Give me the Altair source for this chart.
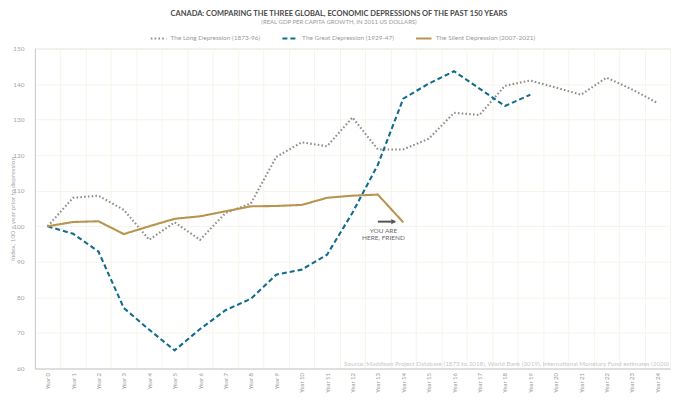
import altair as alt
import pandas as pd

years = list(range(25))
series_names = [
    "The Long Depression (1873-96)",
    "The Great Depression (1929-47)",
    "The Silent Depression (2007-2021)",
]
long_dep = [100, 108.0, 108.6, 104.6, 96.2, 101.1, 96.2, 103.7, 106.4, 119.5,
            123.6, 122.5, 130.6, 121.6, 121.6, 124.6, 131.9, 131.3, 139.5, 141.0,
            139.0, 137.0, 141.8, 138.5, 134.7]
great_dep = [100, 97.9, 92.9, 77.0, 70.9, 65.1, 71.1, 76.4, 79.6, 86.4,
             87.8, 92.0, 103.8, 117.3, 135.9, 140.1, 143.6, 138.7, 133.8, 137.0]
silent_dep = [100, 101.2, 101.4, 97.8, 100.0, 102.1, 102.8, 104.2, 105.6, 105.7,
              106.0, 108.0, 108.6, 108.9, 101.1]
colors = ["#8e8e8e", "#126d8d", "#b8944f"]
dashes = [[1.6, 2.2], [5, 3], [1, 0]]
y_ticks = list(range(60, 151, 10))

rows = []
for name, vals in zip(series_names, [long_dep, great_dep, silent_dep]):
    for i, v in enumerate(vals):
        rows.append({"year": years[i], "series": name, "value": v})
df = pd.DataFrame(rows)

FONT = "Lato"
GRID = "#f6f4ea"
xscale = alt.Scale(domain=[-0.5, 24.5], nice=False, zero=False)
yscale = alt.Scale(domain=[60, 150], nice=False, zero=False)

x_axis = alt.Axis(values=years, labelExpr="'Year ' + datum.value",
                  grid=False, ticks=False, domainColor="#cccccc",
                  labelAngle=-90, labelFont=FONT, labelFontSize=6,
                  labelColor="#9a9a9a", labelPadding=4, title=None,
                  labelOverlap=False, labelFlush=False)
y_axis = alt.Axis(values=y_ticks, grid=True, gridColor=GRID, ticks=False,
                  domainColor="#cccccc", labelFont=FONT, labelFontSize=6.5,
                  labelColor="#a5a5a5", labelPadding=11,
                  labelOverlap=False, labelFlush=False,
                  title="Index, 100 = year prior to depression",
                  titleFont=FONT, titleFontSize=6.5, titleFontWeight="normal",
                  titleColor="#a5a5a5", titleX=-19)

legend = alt.Legend(title=None, orient="none", direction="horizontal",
                    legendX=115, legendY=-19, symbolType="stroke",
                    symbolSize=240, symbolStrokeWidth=2,
                    labelFont=FONT, labelFontSize=6.5, labelColor="#9a9a9a",
                    labelOffset=3, columnPadding=17)

lines = alt.Chart(df).mark_line(strokeWidth=2.1).encode(
    x=alt.X("year:Q", scale=xscale, axis=x_axis),
    y=alt.Y("value:Q", scale=yscale, axis=y_axis),
    color=alt.Color("series:N", sort=series_names,
                    scale=alt.Scale(domain=series_names, range=colors),
                    legend=legend),
    strokeDash=alt.StrokeDash("series:N", sort=series_names,
                              scale=alt.Scale(domain=series_names, range=dashes),
                              legend=legend),
    order="year:Q",
)

grid_df = pd.DataFrame({"g": [-0.5, 24.5]})
vgrid = alt.Chart(grid_df).mark_point(opacity=0).encode(
    x=alt.X("g:Q", scale=xscale,
            axis=alt.Axis(orient="top", values=[i - 0.5 for i in range(26)], grid=True,
                          gridColor=GRID, labels=False, ticks=False, domain=False,
                          title=None)),
    y=alt.value(0),
)

arrow_df = pd.DataFrame({"x1": [13.0], "x2": [13.68], "y": [101.3]})
arrow_shaft = alt.Chart(arrow_df).mark_rule(color="#555555", strokeWidth=2).encode(
    x=alt.X("x1:Q", scale=xscale, axis=x_axis),
    x2="x2:Q",
    y=alt.Y("y:Q", scale=yscale, axis=y_axis),
)
head_df = pd.DataFrame({"x": [13.62], "y": [101.3]})
arrow_head = alt.Chart(head_df).mark_point(shape="triangle-right", filled=True,
                                           color="#555555", size=28, opacity=1).encode(
    x=alt.X("x:Q", scale=xscale, axis=x_axis),
    y=alt.Y("y:Q", scale=yscale, axis=y_axis),
)

note_df = pd.DataFrame({"x": [13.22], "y": [99.6], "t": ["YOU ARE\nHERE, FRIEND"]})
note = alt.Chart(note_df).mark_text(font=FONT, fontSize=6.5, color="#6a6a6a",
                                    align="center", baseline="top", lineHeight=7.5,
                                    lineBreak="\n").encode(
    x=alt.X("x:Q", scale=xscale, axis=x_axis),
    y=alt.Y("y:Q", scale=yscale, axis=y_axis),
    text="t:N",
)

source_df = pd.DataFrame({"t": ["Source: Maddison Project Database (1873 to 2018), World Bank (2019), International Monetary Fund estimates (2020)"]})
source = alt.Chart(source_df).mark_text(font=FONT, fontSize=6.3, color="#c8c8c8",
                                        align="right", baseline="middle").encode(
    x=alt.value(636), y=alt.value(316.5), text="t:N")

main = alt.layer(lines, arrow_shaft, arrow_head, note, source)

chart = alt.layer(vgrid, main).resolve_axis(
    x="independent"
).properties(
    width=637, height=321,
    title=alt.TitleParams(
        text="CANADA: COMPARING THE THREE GLOBAL, ECONOMIC DEPRESSIONS OF THE PAST 150 YEARS",
        subtitle="(REAL GDP PER CAPITA GROWTH, IN 2011 US DOLLARS)",
        anchor="middle", dx=-13.5, font=FONT, fontSize=7.5, fontWeight="bold",
        color="#4a4a4a", subtitleFont=FONT, subtitleFontSize=6, subtitleColor="#9a9a9a",
        subtitlePadding=2, offset=4.5,
    ),
    autosize=alt.AutoSizeParams(type="none"),
    padding={"left": 27, "top": 40, "right": 2, "bottom": 24},
).configure_view(stroke=None).configure_axis(
    labelOverlap=False
).configure(background="white")

chart.save("out.html", embed_options={"renderer": "svg", "actions": False})
